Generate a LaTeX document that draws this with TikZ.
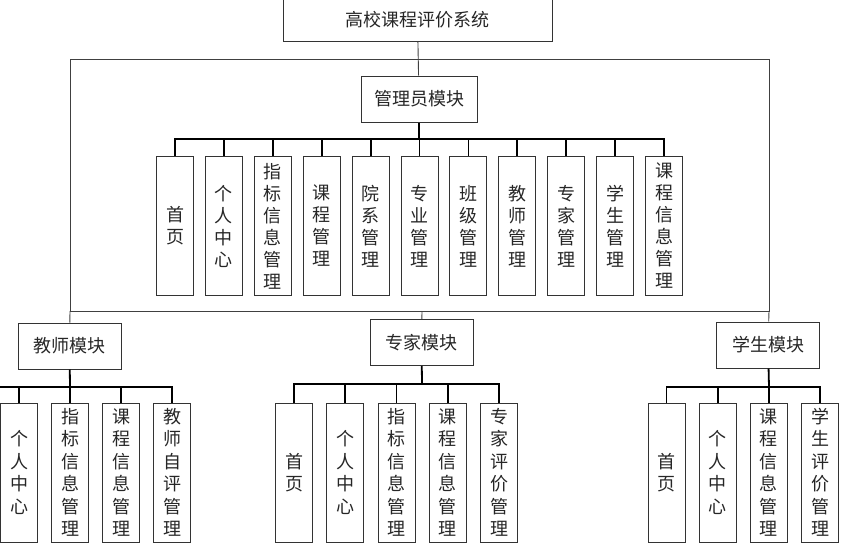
\documentclass[tikz,border=0pt]{standalone}
\usepackage{fontspec}
\newfontfamily\cjk{Noto Sans CJK SC}
\usetikzlibrary{calc}

\begin{document}
\begin{tikzpicture}[x=1pt,y=-1pt,
	box/.style={draw=black!80, line width=1pt, inner sep=0pt, text=black!85,
		font=\cjk\fontsize{18}{22}\selectfont},
	modbox/.style={box, minimum width=103, minimum height=46},
	leaf/.style={box, minimum width=37, minimum height=139, align=center},
	leafb/.style={leaf, font=\cjk\fontsize{18}{22.5}\selectfont},
	frameline/.style={draw=black!75, line width=0.9pt},
	bar/.style={draw=black, line width=1.8pt}]

	\useasboundingbox (0,0) rectangle (842,554);

% coordinates %{{{2

	\coordinate (fTL) at (70,59);
	\coordinate (fTR) at (769,59);
	\coordinate (fBL) at (70,311);
	\coordinate (fBR) at (769,311);
	\coordinate (fTM) at (417.5,59);
	\coordinate (fBM) at (422,311);

	% bars under the modules
	\coordinate (admbar) at (419,139);
	\coordinate (teabar) at (70,387);
	\coordinate (expbar) at (422,384);
	\coordinate (stubar) at (769,387);
	\coordinate (teaend) at (0,387);

% top nodes %{{{2

	\node[box, minimum width=269, minimum height=43] (sys) at (417.5,19.5) {高校课程评价系统};
	\node[box, minimum width=116, minimum height=46] (adm) at (419,99) {管理员模块};

	\node[modbox] (tea) at (69.5,346) {教师模块};
	\node[modbox] (exp) at (421.5,342.5) {专家模块};
	\node[modbox] (stu) at (768,345) {学生模块};

% leaves %{{{2

	\foreach \txt [count=\i] in {{首\\页},{个\\人\\中\\心},{指\\标\\信\\息\\管\\理},
		{课\\程\\管\\理},{院\\系\\管\\理},{专\\业\\管\\理},{班\\级\\管\\理},
		{教\\师\\管\\理},{专\\家\\管\\理},{学\\生\\管\\理},{课\\程\\信\\息\\管\\理}}
		\node[leaf] (a\i) at ({175+48.9*(\i-1)},226) {\txt};

	\foreach \txt [count=\i] in {{个\\人\\中\\心},{指\\标\\信\\息\\管\\理},
		{课\\程\\信\\息\\管\\理},{教\\师\\自\\评\\管\\理}}
		\node[leafb] (t\i) at ({19+51*(\i-1)},472.5) {\txt};

	\foreach \txt [count=\i] in {{首\\页},{个\\人\\中\\心},{指\\标\\信\\息\\管\\理},
		{课\\程\\信\\息\\管\\理},{专\\家\\评\\价\\管\\理}}
		\node[leafb] (e\i) at ({294+51.25*(\i-1)},472.5) {\txt};

	\foreach \txt [count=\i] in {{首\\页},{个\\人\\中\\心},
		{课\\程\\信\\息\\管\\理},{学\\生\\评\\价\\管\\理}}
		\node[leafb] (s\i) at ({666.5+51.2*(\i-1)},472.5) {\txt};

% frame %{{{2

	\draw[frameline] (sys) -- (adm);
	\draw[frameline] (fBL) -- (fTL) -- (fTR) -- (fBR) -- cycle;

	\draw[frameline] (fBL) -- (tea);
	\draw[frameline] (fBM) -- (exp);
	\draw[frameline] (fBR) -- (stu);

% bars %{{{2

	\draw[bar] (adm) -- (admbar);
	\foreach \i in {1,...,11}
		\draw[bar] (admbar) -| (a\i.north);

	\draw[bar] (tea) -- (teabar);
	\draw[bar] (teabar) -- (teaend);
	\foreach \i in {1,...,4}
		\draw[bar] (teabar) -| (t\i.north);

	\draw[bar] (exp) -- (expbar);
	\foreach \i in {1,...,5}
		\draw[bar] (expbar) -| (e\i.north);

	\draw[bar] (stu) -- (stubar);
	\foreach \i in {1,...,4}
		\draw[bar] (stubar) -| (s\i.north);

% closing %{{{2

\end{tikzpicture}
\end{document}
